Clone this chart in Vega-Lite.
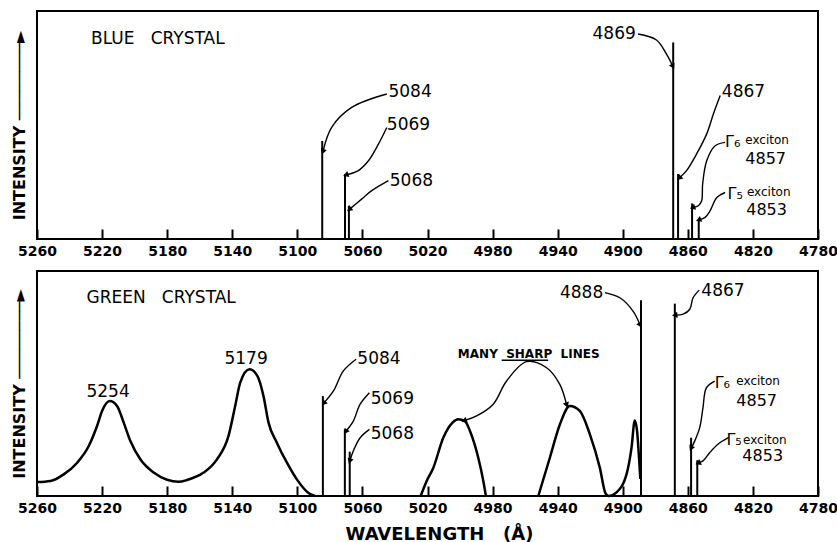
{
  "$schema": "https://vega.github.io/schema/vega-lite/v6.json",
  "background": "white",
  "padding": {"left": 10, "top": 10, "right": 5, "bottom": 2},
  "config": {
    "view": {"stroke": "black", "strokeWidth": 2},
    "font": "DejaVu Sans",
    "axis": {"labelColor": "black", "titleColor": "black"}
  },
  "datasets": {
    "blueLines": [
      {"wl": 5084.7, "v": 43.0}, {"wl": 5070.7, "v": 28.5}, {"wl": 5068.3, "v": 14.6},
      {"wl": 4869.0, "v": 86.2}, {"wl": 4866.0, "v": 28.5}, {"wl": 4857.4, "v": 15.6}, {"wl": 4853.3, "v": 8.8}
    ],
    "blueArrows": [
      {"id": "a", "k": 0, "wl": 5045.0, "v": 63.6}, {"id": "a", "k": 1, "wl": 5066.6, "v": 57.7}, {"id": "a", "k": 2, "wl": 5079.0, "v": 48.9}, {"id": "a", "k": 3, "wl": 5084.1, "v": 38.7},
      {"id": "b", "k": 0, "wl": 5045.0, "v": 48.9}, {"id": "b", "k": 1, "wl": 5050.1, "v": 41.7}, {"id": "b", "k": 2, "wl": 5056.3, "v": 34.3}, {"id": "b", "k": 3, "wl": 5062.5, "v": 30.0}, {"id": "b", "k": 4, "wl": 5069.7, "v": 28.2},
      {"id": "c", "k": 0, "wl": 5044.0, "v": 25.6}, {"id": "c", "k": 1, "wl": 5054.3, "v": 21.2}, {"id": "c", "k": 2, "wl": 5060.5, "v": 17.5}, {"id": "c", "k": 3, "wl": 5067.7, "v": 13.2},
      {"id": "d", "k": 0, "wl": 4890.6, "v": 89.9}, {"id": "d", "k": 1, "wl": 4879.3, "v": 87.3}, {"id": "d", "k": 2, "wl": 4873.1, "v": 81.1}, {"id": "d", "k": 3, "wl": 4869.4, "v": 76.0},
      {"id": "e", "k": 0, "wl": 4840.1, "v": 62.9}, {"id": "e", "k": 1, "wl": 4844.3, "v": 54.8}, {"id": "e", "k": 2, "wl": 4848.4, "v": 46.1}, {"id": "e", "k": 3, "wl": 4854.6, "v": 37.3}, {"id": "e", "k": 4, "wl": 4860.8, "v": 30.0}, {"id": "e", "k": 5, "wl": 4864.9, "v": 27.0},
      {"id": "f", "k": 0, "wl": 4837.1, "v": 42.4}, {"id": "f", "k": 1, "wl": 4843.2, "v": 40.9}, {"id": "f", "k": 2, "wl": 4848.4, "v": 34.3}, {"id": "f", "k": 3, "wl": 4850.9, "v": 24.1}, {"id": "f", "k": 4, "wl": 4851.5, "v": 16.8}, {"id": "f", "k": 5, "wl": 4853.5, "v": 14.6}, {"id": "f", "k": 6, "wl": 4856.6, "v": 13.9},
      {"id": "g", "k": 0, "wl": 4837.1, "v": 20.4}, {"id": "g", "k": 1, "wl": 4842.2, "v": 18.2}, {"id": "g", "k": 2, "wl": 4846.3, "v": 12.4}, {"id": "g", "k": 3, "wl": 4849.4, "v": 9.5}, {"id": "g", "k": 4, "wl": 4852.9, "v": 8.5}
    ],
    "blueHeads": [
      {"wl": 5084.1, "v": 38.7, "ang": 200}, {"wl": 5069.7, "v": 28.2, "ang": 251}, {"wl": 5067.7, "v": 13.2, "ang": 230},
      {"wl": 4869.4, "v": 76.0, "ang": 153}, {"wl": 4864.9, "v": 27.0, "ang": 225}, {"wl": 4856.6, "v": 13.9, "ang": 251}, {"wl": 4852.9, "v": 8.5, "ang": 248}
    ],
    "blueTextL": [
      {"t": "BLUE\u00a0\u00a0\u00a0CRYSTAL", "wl": 5226.8, "v": 87.7},
      {"t": "5084", "wl": 5044.0, "v": 64.3}, {"t": "5069", "wl": 5045.0, "v": 50.0}, {"t": "5068", "wl": 5043.2, "v": 25.6},
      {"t": "4867", "wl": 4839.1, "v": 64.3}
    ],
    "blueNums": [{"t": "4857", "wl": 4824.7, "v": 35.2}, {"t": "4853", "wl": 4824.1, "v": 12.9}],
    "blueTextR": [{"t": "4869", "wl": 4892.0, "v": 89.7}],
    "blueSmall": [{"t": "exciton", "wl": 4824.7, "v": 43.6}, {"t": "exciton", "wl": 4823.7, "v": 20.6}],
    "blueGamma": [{"t": "Γ₆", "wl": 4837.1, "v": 42.7}, {"t": "Γ₅", "wl": 4835.6, "v": 19.9}],
    "greenCurve": [
      {"seg": "a", "wl": 5260.0, "v": 6.2}, {"seg": "a", "wl": 5251.7, "v": 6.7}, {"seg": "a", "wl": 5243.6, "v": 9.6}, {"seg": "a", "wl": 5235.3, "v": 14.8},
      {"seg": "a", "wl": 5228.2, "v": 22.2}, {"seg": "a", "wl": 5223.1, "v": 31.1}, {"seg": "a", "wl": 5220.0, "v": 37.8}, {"seg": "a", "wl": 5215.3, "v": 42.2},
      {"seg": "a", "wl": 5210.8, "v": 40.0}, {"seg": "a", "wl": 5206.7, "v": 32.6}, {"seg": "a", "wl": 5202.6, "v": 24.4}, {"seg": "a", "wl": 5196.5, "v": 16.3},
      {"seg": "a", "wl": 5188.3, "v": 10.4}, {"seg": "a", "wl": 5180.1, "v": 7.2}, {"seg": "a", "wl": 5173.0, "v": 6.3}, {"seg": "a", "wl": 5167.8, "v": 7.1},
      {"seg": "a", "wl": 5157.6, "v": 10.4}, {"seg": "a", "wl": 5149.4, "v": 16.3}, {"seg": "a", "wl": 5142.3, "v": 26.7}, {"seg": "a", "wl": 5138.2, "v": 40.0},
      {"seg": "a", "wl": 5135.1, "v": 50.4}, {"seg": "a", "wl": 5129.4, "v": 56.3}, {"seg": "a", "wl": 5124.5, "v": 53.3}, {"seg": "a", "wl": 5120.8, "v": 44.4},
      {"seg": "a", "wl": 5117.7, "v": 32.6}, {"seg": "a", "wl": 5112.6, "v": 23.7}, {"seg": "a", "wl": 5106.4, "v": 14.8}, {"seg": "a", "wl": 5100.3, "v": 7.4},
      {"seg": "a", "wl": 5092.1, "v": 0.8}, {"seg": "a", "wl": 5089.1, "v": 0.0},
      {"seg": "b", "wl": 5024.2, "v": 0.0}, {"seg": "b", "wl": 5020.5, "v": 6.7}, {"seg": "b", "wl": 5016.4, "v": 12.6}, {"seg": "b", "wl": 5010.3, "v": 25.9},
      {"seg": "b", "wl": 5004.6, "v": 32.6}, {"seg": "b", "wl": 5001.1, "v": 34.1}, {"seg": "b", "wl": 4997.0, "v": 33.3}, {"seg": "b", "wl": 4993.9, "v": 28.9},
      {"seg": "b", "wl": 4988.8, "v": 17.0}, {"seg": "b", "wl": 4985.7, "v": 6.7}, {"seg": "b", "wl": 4984.1, "v": 0.0},
      {"seg": "c", "wl": 4951.9, "v": 0.0}, {"seg": "c", "wl": 4944.8, "v": 17.0}, {"seg": "c", "wl": 4938.6, "v": 31.9}, {"seg": "c", "wl": 4932.5, "v": 40.0},
      {"seg": "c", "wl": 4926.4, "v": 37.8}, {"seg": "c", "wl": 4920.2, "v": 27.4}, {"seg": "c", "wl": 4914.1, "v": 12.6}, {"seg": "c", "wl": 4910.5, "v": 1.0},
      {"seg": "c", "wl": 4908.5, "v": 0.0}, {"seg": "c", "wl": 4904.0, "v": 1.5}, {"seg": "c", "wl": 4897.7, "v": 9.6}, {"seg": "c", "wl": 4894.6, "v": 21.5},
      {"seg": "c", "wl": 4892.6, "v": 33.6}, {"seg": "c", "wl": 4891.2, "v": 28.9}, {"seg": "c", "wl": 4890.0, "v": 17.0}, {"seg": "c", "wl": 4889.2, "v": 7.6}
    ],
    "greenLines": [
      {"wl": 5084.3, "v": 44.4}, {"wl": 5070.8, "v": 29.6}, {"wl": 5067.8, "v": 19.7},
      {"wl": 4888.8, "v": 87.0}, {"wl": 4868.0, "v": 85.5}, {"wl": 4858.0, "v": 25.9}, {"wl": 4854.2, "v": 15.9}
    ],
    "greenArrows": [
      {"id": "h", "k": 0, "wl": 5063.9, "v": 60.8}, {"id": "h", "k": 1, "wl": 5071.7, "v": 55.6}, {"id": "h", "k": 2, "wl": 5077.8, "v": 46.7}, {"id": "h", "k": 3, "wl": 5083.5, "v": 41.5},
      {"id": "i", "k": 0, "wl": 5055.7, "v": 45.9}, {"id": "i", "k": 1, "wl": 5061.4, "v": 40.8}, {"id": "i", "k": 2, "wl": 5065.6, "v": 33.3}, {"id": "i", "k": 3, "wl": 5070.0, "v": 28.9},
      {"id": "j", "k": 0, "wl": 5055.7, "v": 29.6}, {"id": "j", "k": 1, "wl": 5061.4, "v": 25.9}, {"id": "j", "k": 2, "wl": 5065.6, "v": 20.0}, {"id": "j", "k": 3, "wl": 5067.6, "v": 15.9},
      {"id": "k", "k": 0, "wl": 4911.0, "v": 90.4}, {"id": "k", "k": 1, "wl": 4901.8, "v": 88.1}, {"id": "k", "k": 2, "wl": 4893.7, "v": 82.2}, {"id": "k", "k": 3, "wl": 4889.5, "v": 76.3},
      {"id": "l", "k": 0, "wl": 4853.0, "v": 91.5}, {"id": "l", "k": 1, "wl": 4856.8, "v": 88.1}, {"id": "l", "k": 2, "wl": 4858.8, "v": 83.0}, {"id": "l", "k": 3, "wl": 4862.9, "v": 80.8}, {"id": "l", "k": 4, "wl": 4867.5, "v": 80.4},
      {"id": "m", "k": 0, "wl": 4843.5, "v": 51.1}, {"id": "m", "k": 1, "wl": 4848.6, "v": 48.1}, {"id": "m", "k": 2, "wl": 4850.7, "v": 39.2}, {"id": "m", "k": 3, "wl": 4852.7, "v": 30.4}, {"id": "m", "k": 4, "wl": 4855.8, "v": 24.4}, {"id": "m", "k": 5, "wl": 4857.8, "v": 21.5},
      {"id": "n", "k": 0, "wl": 4835.1, "v": 25.9}, {"id": "n", "k": 1, "wl": 4841.5, "v": 23.0}, {"id": "n", "k": 2, "wl": 4846.6, "v": 19.2}, {"id": "n", "k": 3, "wl": 4850.7, "v": 15.6}, {"id": "n", "k": 4, "wl": 4853.2, "v": 14.8},
      {"id": "o", "k": 0, "wl": 4997.0, "v": 33.6}, {"id": "o", "k": 1, "wl": 4989.8, "v": 35.6}, {"id": "o", "k": 2, "wl": 4979.6, "v": 40.8}, {"id": "o", "k": 3, "wl": 4971.4, "v": 51.1},
      {"id": "o", "k": 4, "wl": 4959.1, "v": 59.7}, {"id": "o", "k": 5, "wl": 4946.8, "v": 57.0}, {"id": "o", "k": 6, "wl": 4938.7, "v": 49.6}, {"id": "o", "k": 7, "wl": 4934.6, "v": 40.8}
    ],
    "greenHeads": [
      {"wl": 5083.5, "v": 41.5, "ang": 218}, {"wl": 5070.0, "v": 28.9, "ang": 216}, {"wl": 5067.6, "v": 15.9, "ang": 200},
      {"wl": 4889.5, "v": 76.3, "ang": 153}, {"wl": 4867.5, "v": 80.4, "ang": 264}, {"wl": 4857.8, "v": 21.5, "ang": 206},
      {"wl": 4853.2, "v": 14.8, "ang": 247}, {"wl": 4997.0, "v": 33.6, "ang": 250}, {"wl": 4934.6, "v": 40.8, "ang": 161}
    ],
    "greenTextL": [
      {"t": "GREEN\u00a0\u00a0\u00a0CRYSTAL", "wl": 5229.6, "v": 87.9},
      {"t": "5084", "wl": 5063.1, "v": 61.1}, {"t": "5069", "wl": 5054.9, "v": 43.3}, {"t": "5068", "wl": 5054.9, "v": 27.7},
      {"t": "4867", "wl": 4851.7, "v": 91.1}
    ],
    "greenNums": [{"t": "4857", "wl": 4830.2, "v": 42.2}, {"t": "4853", "wl": 4826.5, "v": 17.6}],
    "greenTextR": [{"t": "4888", "wl": 4912.0, "v": 90.4}],
    "greenTextC": [{"t": "5254", "wl": 5216.3, "v": 46.2}, {"t": "5179", "wl": 5131.5, "v": 61.1}],
    "greenMany": [{"t": "MANY\u00a0\u00a0SHARP\u00a0\u00a0LINES", "wl": 4957.8, "v": 62.9}],
    "greenUnder": [{"wl": 4974.4, "wl2": 4945.8, "v": 60.3}],
    "greenSmall": [{"t": "exciton", "wl": 4830.2, "v": 51.0}, {"t": "exciton", "wl": 4826.1, "v": 25.0}],
    "greenGamma": [{"t": "Γ₆", "wl": 4843.5, "v": 50.2}, {"t": "Γ₅", "wl": 4836.3, "v": 25.0}]
  },
  "vconcat": [
    {
      "width": 781,
      "height": 228,
      "encoding": {
        "x": {"field": "wl", "type": "quantitative",
          "scale": {"domain": [4780, 5260], "reverse": true, "nice": false, "zero": false},
          "axis": {"values": [5260, 5220, 5180, 5140, 5100, 5060, 5020, 4980, 4940, 4900, 4860, 4820, 4780],
            "format": "d", "tickSize": -10, "tickWidth": 2, "tickColor": "black", "domain": false, "grid": false,
            "labelPadding": 15, "labelFont": "DejaVu Sans", "labelFontWeight": "bold", "labelFontSize": 14,
            "labelFlush": false, "labelOverlap": false, "title": null}},
        "y": {"field": "v", "type": "quantitative",
          "scale": {"domain": [0, 100], "nice": false, "zero": false},
          "axis": {"title": "INTENSITY\u00a0────────►", "labels": false, "ticks": false, "domain": false, "grid": false,
            "titleFont": "DejaVu Sans", "titleFontWeight": "bold", "titleFontSize": 16, "titlePadding": 10}}
      },
      "layer": [
        {"data": {"name": "blueLines"}, "mark": {"type": "rule", "color": "black", "strokeWidth": 2}, "encoding": {"y2": {"datum": 0}}},
        {"data": {"name": "blueArrows"}, "mark": {"type": "line", "color": "black", "strokeWidth": 1.4, "interpolate": "catmull-rom"},
          "encoding": {"detail": {"field": "id"}, "order": {"field": "k", "type": "quantitative"}}},
        {"data": {"name": "blueHeads"}, "mark": {"type": "point", "shape": "triangle", "filled": true, "color": "black", "opacity": 1, "size": 40},
          "encoding": {"angle": {"field": "ang", "type": "quantitative", "scale": null}}},
        {"data": {"name": "blueTextL"}, "mark": {"type": "text", "align": "left", "baseline": "middle", "fontSize": 17, "color": "black"},
          "encoding": {"text": {"field": "t"}}},
        {"data": {"name": "blueNums"}, "mark": {"type": "text", "align": "left", "baseline": "middle", "fontSize": 16, "color": "black"},
          "encoding": {"text": {"field": "t"}}},
        {"data": {"name": "blueTextR"}, "mark": {"type": "text", "align": "right", "baseline": "middle", "fontSize": 17, "color": "black"},
          "encoding": {"text": {"field": "t"}}},
        {"data": {"name": "blueSmall"}, "mark": {"type": "text", "align": "left", "baseline": "middle", "fontSize": 12, "color": "black"},
          "encoding": {"text": {"field": "t"}}},
        {"data": {"name": "blueGamma"}, "mark": {"type": "text", "align": "left", "baseline": "middle", "fontSize": 16, "color": "black"},
          "encoding": {"text": {"field": "t"}}}
      ]
    },
    {
      "width": 781,
      "height": 225,
      "encoding": {
        "x": {"field": "wl", "type": "quantitative",
          "scale": {"domain": [4780, 5260], "reverse": true, "nice": false, "zero": false},
          "axis": {"values": [5260, 5220, 5180, 5140, 5100, 5060, 5020, 4980, 4940, 4900, 4860, 4820, 4780],
            "format": "d", "tickSize": -10, "tickWidth": 2, "tickColor": "black", "domain": false, "grid": false,
            "labelPadding": 15, "labelFont": "DejaVu Sans", "labelFontWeight": "bold", "labelFontSize": 14,
            "labelFlush": false, "labelOverlap": false,
            "title": "WAVELENGTH\u00a0\u00a0\u00a0(Å)", "titleFont": "DejaVu Sans", "titleFontWeight": "bold", "titleFontSize": 18,
            "titlePadding": 10, "titleX": 402}},
        "y": {"field": "v", "type": "quantitative",
          "scale": {"domain": [0, 100], "nice": false, "zero": false},
          "axis": {"title": "INTENSITY\u00a0────────►", "labels": false, "ticks": false, "domain": false, "grid": false,
            "titleFont": "DejaVu Sans", "titleFontWeight": "bold", "titleFontSize": 16, "titlePadding": 10}}
      },
      "layer": [
        {"data": {"name": "greenCurve"}, "mark": {"type": "line", "color": "black", "strokeWidth": 2.5, "interpolate": "monotone"},
          "encoding": {"detail": {"field": "seg"}}},
        {"data": {"name": "greenLines"}, "mark": {"type": "rule", "color": "black", "strokeWidth": 2}, "encoding": {"y2": {"datum": 0}}},
        {"data": {"name": "greenArrows"}, "mark": {"type": "line", "color": "black", "strokeWidth": 1.4, "interpolate": "catmull-rom"},
          "encoding": {"detail": {"field": "id"}, "order": {"field": "k", "type": "quantitative"}}},
        {"data": {"name": "greenHeads"}, "mark": {"type": "point", "shape": "triangle", "filled": true, "color": "black", "opacity": 1, "size": 40},
          "encoding": {"angle": {"field": "ang", "type": "quantitative", "scale": null}}},
        {"data": {"name": "greenUnder"}, "mark": {"type": "rule", "color": "black", "strokeWidth": 1.5},
          "encoding": {"x2": {"field": "wl2"}}},
        {"data": {"name": "greenTextL"}, "mark": {"type": "text", "align": "left", "baseline": "middle", "fontSize": 17, "color": "black"},
          "encoding": {"text": {"field": "t"}}},
        {"data": {"name": "greenNums"}, "mark": {"type": "text", "align": "left", "baseline": "middle", "fontSize": 16, "color": "black"},
          "encoding": {"text": {"field": "t"}}},
        {"data": {"name": "greenTextR"}, "mark": {"type": "text", "align": "right", "baseline": "middle", "fontSize": 17, "color": "black"},
          "encoding": {"text": {"field": "t"}}},
        {"data": {"name": "greenTextC"}, "mark": {"type": "text", "align": "center", "baseline": "middle", "fontSize": 17, "color": "black"},
          "encoding": {"text": {"field": "t"}}},
        {"data": {"name": "greenMany"}, "mark": {"type": "text", "align": "center", "baseline": "middle", "fontSize": 12, "fontWeight": "bold", "color": "black"},
          "encoding": {"text": {"field": "t"}}},
        {"data": {"name": "greenSmall"}, "mark": {"type": "text", "align": "left", "baseline": "middle", "fontSize": 12, "color": "black"},
          "encoding": {"text": {"field": "t"}}},
        {"data": {"name": "greenGamma"}, "mark": {"type": "text", "align": "left", "baseline": "middle", "fontSize": 16, "color": "black"},
          "encoding": {"text": {"field": "t"}}}
      ]
    }
  ],
  "spacing": 32,
  "bounds": "flush"
}
